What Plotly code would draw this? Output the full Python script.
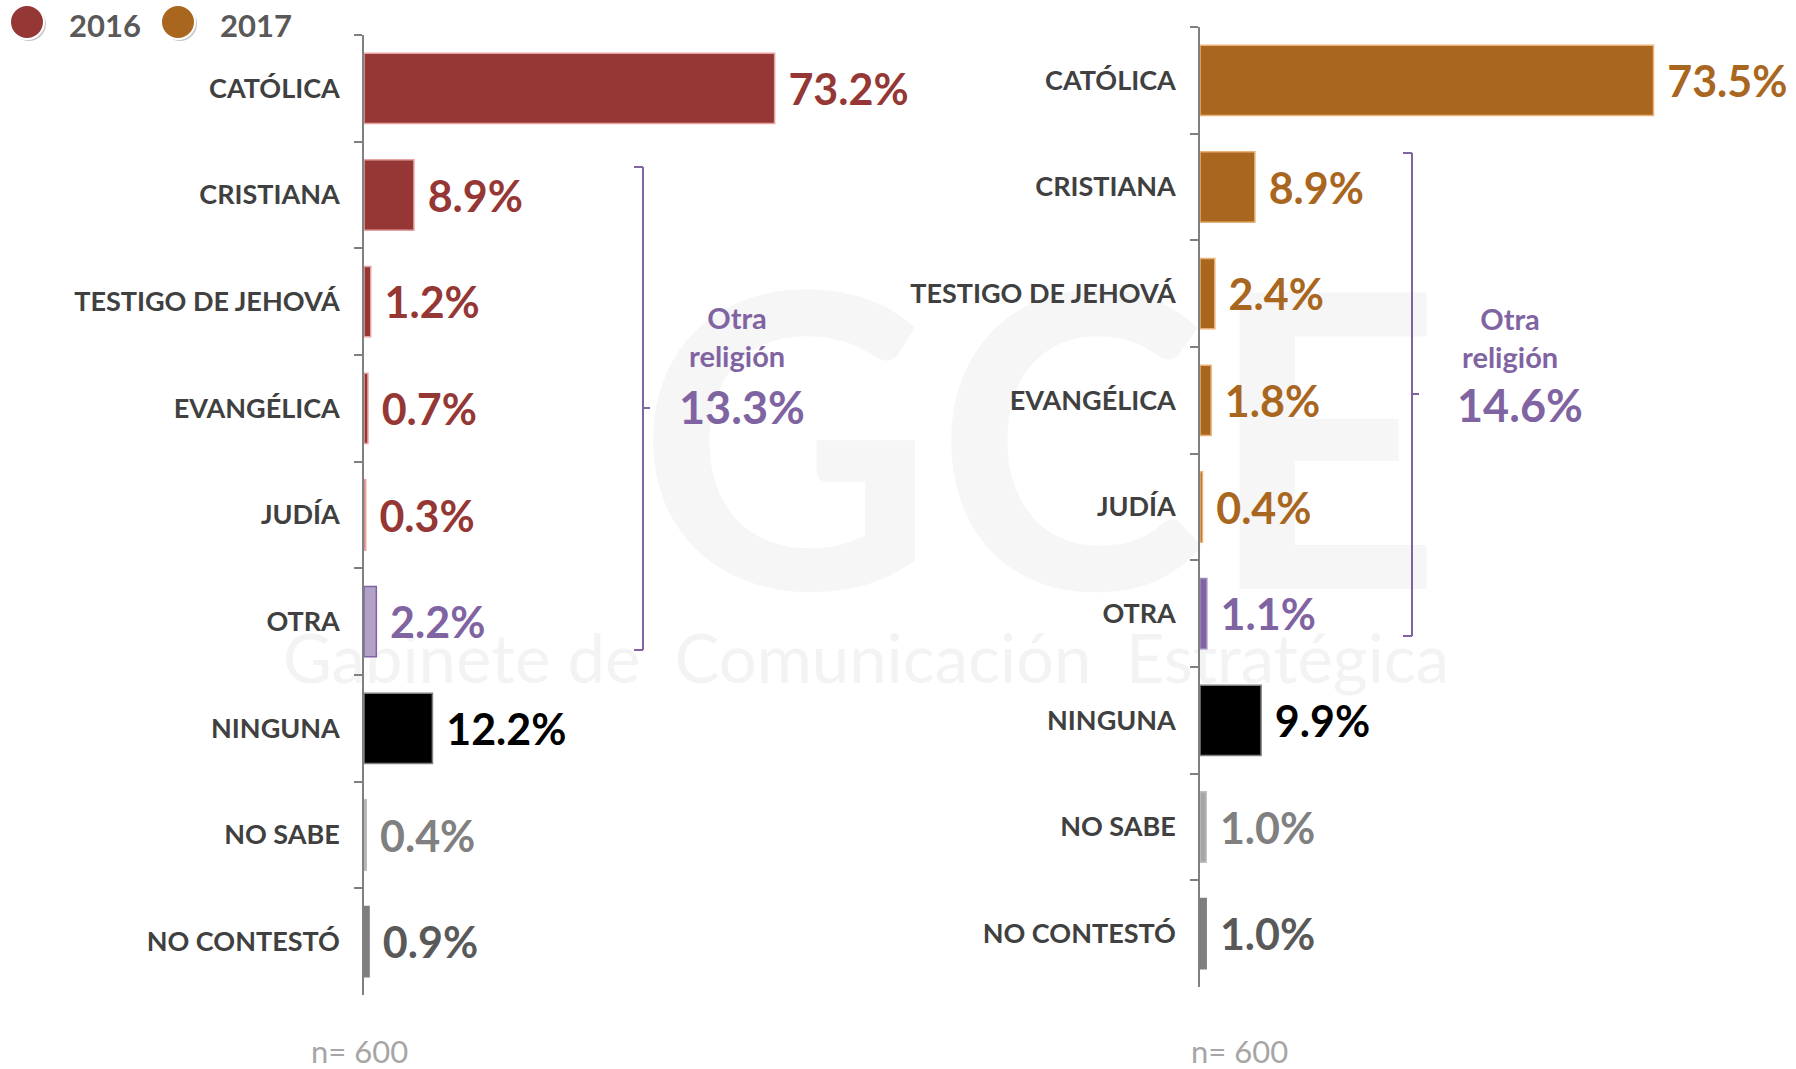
import plotly.graph_objects as go

# data
categories = ['CATÓLICA', 'CRISTIANA', 'TESTIGO DE JEHOVÁ', 'EVANGÉLICA', 'JUDÍA',
              'OTRA', 'NINGUNA', 'NO SABE', 'NO CONTESTÓ']
values_2016 = [73.2, 8.9, 1.2, 0.7, 0.3, 2.2, 12.2, 0.4, 0.9]
values_2017 = [73.5, 8.9, 2.4, 1.8, 0.4, 1.1, 9.9, 1.0, 1.0]
otra_religion_2016 = 13.3
otra_religion_2017 = 14.6
sample_size = 600

W, H = 1796, 1069
FONT = 'Lato'
PURPLE = '#8064A2'


def px(x):
    return x / W


def py(y):
    return 1 - y / H


# colours per category
bar_2016 = ['#953735'] * 5 + ['#B3A2C7', '#000000', '#A6A6A6', '#7F7F7F']
line_2016 = ['#E6A3A1'] * 5 + ['#8064A2', '#7F7F7F', '#BFBFBF', '#7F7F7F']
text_2016 = ['#953735'] * 5 + [PURPLE, '#000000', '#808080', '#595959']

bar_2017 = ['#A9661F'] * 5 + ['#8064A2', '#000000', '#A6A6A6', '#7F7F7F']
line_2017 = ['#E9B27A'] * 5 + ['#A08BC0', '#7F7F7F', '#BFBFBF', '#7F7F7F']
text_2017 = ['#A9661F'] * 5 + [PURPLE, '#000000', '#808080', '#595959']

fig = go.Figure()

fig.add_trace(go.Bar(
    x=values_2016, y=categories, orientation='h',
    marker=dict(color=bar_2016, line=dict(color=line_2016, width=1.5)),
    text=[f'\u2005{v:.1f}%' for v in values_2016], textposition='outside',
    textfont=dict(family=FONT, size=43, color=text_2016, weight='bold'),
    constraintext='none', cliponaxis=False, showlegend=False,
    xaxis='x', yaxis='y'))

fig.add_trace(go.Bar(
    x=values_2017, y=categories, orientation='h',
    marker=dict(color=bar_2017, line=dict(color=line_2017, width=1.5)),
    text=[f'\u2005{v:.1f}%' for v in values_2017], textposition='outside',
    textfont=dict(family=FONT, size=43, color=text_2017, weight='bold'),
    constraintext='none', cliponaxis=False, showlegend=False,
    xaxis='x2', yaxis='y2'))

yax = dict(type='category', autorange='reversed', showline=True, linecolor='#808080',
           linewidth=1.5, ticks='outside', tickson='boundaries', ticklen=8,
           tickcolor='#808080', tickwidth=1.5, ticklabelstandoff=17, showgrid=False,
           tickfont=dict(family=FONT, size=27, color='#404040', weight='bold'))
xax = dict(visible=False, showgrid=False, zeroline=False)

fig.update_layout(
    width=W, height=H,
    margin=dict(l=0, r=0, t=0, b=0),
    paper_bgcolor='white', plot_bgcolor='rgba(0,0,0,0)',
    bargap=0.34,
    xaxis=dict(xax, domain=[px(364), px(1000)], range=[0, 636 / 5.61], anchor='y'),
    yaxis=dict(yax, domain=[py(995), py(35)], anchor='x'),
    xaxis2=dict(xax, domain=[px(1200), px(1790)], range=[0, 590 / 6.17], anchor='y2'),
    yaxis2=dict(yax, domain=[py(987), py(27)], anchor='x2'),
)

shapes = []
# faint watermark behind everything
shapes.append(dict(type='rect', xref='paper', yref='paper', layer='below',
                   x0=px(600), x1=px(1480), y0=py(600), y1=py(250),
                   line=dict(width=0), fillcolor='rgba(0,0,0,0)',
                   label=dict(text='GCE', font=dict(family=FONT, size=410, color='#F6F6F6',
                                                    weight='bold'))))
shapes.append(dict(type='rect', xref='paper', yref='paper', layer='below',
                   x0=px(266), x1=px(1466), y0=py(700), y1=py(612),
                   line=dict(width=0), fillcolor='rgba(0,0,0,0)',
                   label=dict(text='Gabinete de  Comunicación  Estratégica',
                              font=dict(family=FONT, size=67, color='#F3F3F3'))))

# brackets grouping "Otra religión"
for bx, top, bot, mid in [(643, 167, 650, 408), (1412, 153, 636, 394)]:
    line = dict(color=PURPLE, width=2)
    shapes.append(dict(type='line', xref='paper', yref='paper',
                       x0=px(bx), x1=px(bx), y0=py(top), y1=py(bot), line=line))
    shapes.append(dict(type='line', xref='paper', yref='paper',
                       x0=px(bx - 9), x1=px(bx), y0=py(top), y1=py(top), line=line))
    shapes.append(dict(type='line', xref='paper', yref='paper',
                       x0=px(bx - 9), x1=px(bx), y0=py(bot), y1=py(bot), line=line))
    shapes.append(dict(type='line', xref='paper', yref='paper',
                       x0=px(bx), x1=px(bx + 7), y0=py(mid), y1=py(mid), line=line))

# legend circles
for cx, col in [(27, '#953735'), (178, '#A9661F')]:
    shapes.append(dict(type='circle', xref='paper', yref='paper',
                       x0=px(cx - 15), x1=px(cx + 19), y0=py(41), y1=py(7),
                       fillcolor='#C8C8C8', line=dict(width=0)))
    shapes.append(dict(type='circle', xref='paper', yref='paper',
                       x0=px(cx - 17), x1=px(cx + 17), y0=py(39), y1=py(5),
                       fillcolor=col, line=dict(color='white', width=2)))

fig.update_layout(shapes=shapes)

annotations = []
for label, cx in [('2016', 105), ('2017', 256)]:
    annotations.append(dict(text=label, x=px(cx), y=py(25), xref='paper', yref='paper',
                            showarrow=False, xanchor='center', yanchor='middle',
                            font=dict(family=FONT, size=31, color='#595959', weight='bold')))

for cx, cy, tcx, tcy, total in [(737, 336, 742, 407, otra_religion_2016),
                                (1510, 337, 1520, 405, otra_religion_2017)]:
    annotations.append(dict(text='Otra<br>religión', x=px(cx), y=py(cy), xref='paper',
                            yref='paper', showarrow=False, xanchor='center', yanchor='middle',
                            font=dict(family=FONT, size=29, color=PURPLE, weight='bold')))
    annotations.append(dict(text=f'{total:.1f}%', x=px(tcx), y=py(tcy), xref='paper',
                            yref='paper', showarrow=False, xanchor='center', yanchor='middle',
                            font=dict(family=FONT, size=45, color=PURPLE, weight='bold')))

for cx in [359, 1239]:
    annotations.append(dict(text=f'n= {sample_size}', x=px(cx), y=py(1051), xref='paper',
                            yref='paper', showarrow=False, xanchor='center', yanchor='middle',
                            font=dict(family=FONT, size=31, color='#A6A6A6')))

fig.update_layout(annotations=annotations)

# drop the default 8px page margin so the figure fills the window exactly
fig.write_html("out.html", config={'displayModeBar': False},
               post_script="document.body.style.margin = '0';")
